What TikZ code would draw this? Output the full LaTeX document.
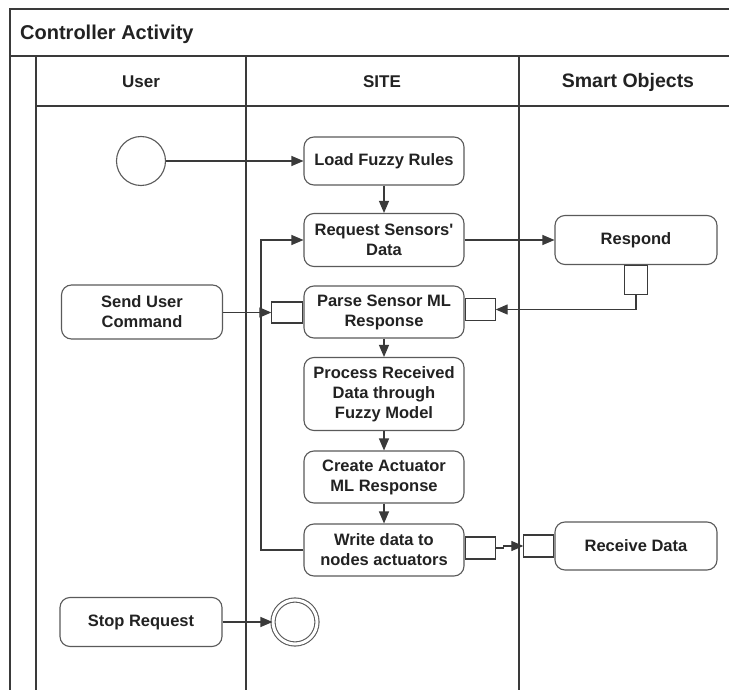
\documentclass[tikz,border=0pt]{standalone}
\usepackage{fontspec}
\setmainfont{Liberation Sans}
\usetikzlibrary{arrows.meta,positioning}

\definecolor{lane}{HTML}{3A3A3A}
\definecolor{boxline}{HTML}{5A5A5A}
\definecolor{ink}{HTML}{222222}

\tikzset{
  lanes/.style={draw=lane, line width=1.1pt},
  action/.style={draw=boxline, line width=1.1pt, rounded corners=10pt, fill=white,
    inner sep=0pt, align=center, text=ink,
    font=\bfseries\fontsize{16.5}{20}\selectfont},
  pin/.style={draw=lane, line width=1.1pt, fill=white, inner sep=0pt},
  initial/.style={circle, draw=boxline, line width=1.1pt, fill=white, inner sep=0pt, minimum size=49pt},
  final/.style={circle, draw=boxline, line width=1.1pt, double=white, double distance=3pt,
    fill=white, inner sep=0pt, minimum size=44pt},
  flow/.style={draw=lane, line width=1.1pt, -{Triangle[length=12pt,width=10pt]}},
  lanehead/.style={text=ink, font=\bfseries\fontsize{17}{20}\selectfont},
}

\begin{document}
\begin{tikzpicture}[x=1pt,y=-1pt]
\useasboundingbox (0,0) rectangle (729,690);
\fill[white] (0,0) rectangle (729,690);
\clip (0,0) rectangle (729,690);

% frame, title band and swimlanes
\draw[lanes] (10,690) -- (10,9) -- (740,9);
\draw[lanes] (10,56) -- (740,56);
\draw[lanes] (36,106) -- (740,106);
\draw[lanes] (36,56) -- (36,700);
\draw[lanes] (246,56) -- (246,700);
\draw[lanes] (519,56) -- (519,700);

\node[anchor=west, inner sep=0pt, text=ink, font=\bfseries\fontsize{20}{22}\selectfont] (title) at (20,34) {Controller Activity};
\node[lanehead] (hUser) at (141,82) {User};
\node[lanehead] (hSite) at (382,82) {SITE};
\node[lanehead, font=\bfseries\fontsize{19.5}{22}\selectfont] (hObj) at (628,82) {Smart Objects};

% actions
\node[initial] (start) at (141,161) {};
\node[action, minimum width=160pt, minimum height=48pt] (load) at (384,161) {Load Fuzzy Rules};
\node[action, minimum width=160pt, minimum height=53pt] (req) at (384,240) {Request Sensors\textquotesingle\\Data};
\node[action, minimum width=160pt, minimum height=52pt] (parse) at (384,312) {Parse Sensor ML\\Response};
\node[action, minimum width=160pt, minimum height=73pt] (proc) at (384,394) {Process Received\\Data through\\Fuzzy Model};
\node[action, minimum width=160pt, minimum height=52pt] (create) at (384,477) {Create Actuator\\ML Response};
\node[action, minimum width=160pt, minimum height=52pt] (write) at (384,550) {Write data to\\nodes actuators};
\node[action, minimum width=162pt, minimum height=49pt] (respond) at (636,240) {Respond};
\node[action, minimum width=162pt, minimum height=48pt] (receive) at (636,546) {Receive Data};
\node[action, minimum width=161pt, minimum height=54pt] (send) at (142,312) {Send User\\Command};
\node[action, minimum width=162pt, minimum height=49pt] (stop) at (141,622) {Stop Request};
\node[final] (stopend) at (295,622) {};

% pins
\node[pin, minimum width=23pt, minimum height=29pt, anchor=north] (respPin) at (respond.south) {};
\node[pin, minimum width=30pt, minimum height=22pt, anchor=west] (parseR) at (parse.east |- 0,309.5) {};
\node[pin, minimum width=31pt, minimum height=21pt, anchor=east] (parseL) at (parse.west |- 0,312.5) {};
\node[pin, minimum width=30pt, minimum height=22pt, anchor=west] (writeR) at (write.east |- 0,548) {};
\node[pin, minimum width=30pt, minimum height=22pt, anchor=east] (recvL) at (receive.west |- 0,546) {};

% control and object flows
\draw[flow] (start) -- (load);
\draw[flow] (load) -- (req);
\draw[flow] (req.east) -- (respond.west |- req.east);
\draw[flow] (respPin.south) |- (parseR.east);
\draw[flow] (send.east |- parseL.west) -- (parseL.west);
\draw[flow] (parse) -- (proc);
\draw[flow] (proc) -- (create);
\draw[flow] (create) -- (write);
\draw[flow] (write.west) -- (261,550) |- (req.west);
\draw[flow] (writeR.east) -- ++(8,0) |- (recvL.west);
\draw[flow] (stop) -- (stopend);
\end{tikzpicture}
\end{document}
